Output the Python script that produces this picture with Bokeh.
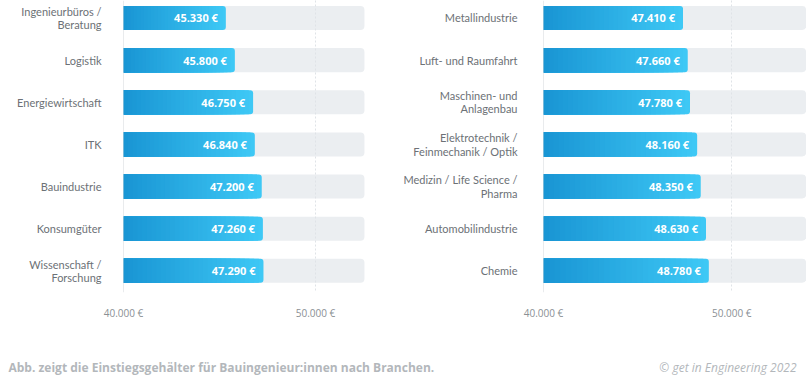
from bokeh.plotting import figure
from bokeh.models import ColumnDataSource, FixedTicker, Range1d, Span
from bokeh.layouts import row, column
from bokeh.embed import file_html
from bokeh.resources import INLINE
from bokeh.core.properties import value

# ---------------- data ----------------
left_labels = ["Ingenieurbüros /\nBeratung", "Logistik", "Energiewirtschaft", "ITK",
               "Bauindustrie", "Konsumgüter", "Wissenschaft /\nForschung"]
left_values = [45330, 45800, 46750, 46840, 47200, 47260, 47290]

right_labels = ["Metallindustrie", "Luft- und Raumfahrt", "Maschinen- und\nAnlagenbau",
                "Elektrotechnik /\nFeinmechanik / Optik", "Medizin / Life Science /\nPharma",
                "Automobilindustrie", "Chemie"]
right_values = [47410, 47660, 47780, 48160, 48350, 48630, 48780]

axis_start = 40000
tick_values = [40000, 50000]
tick_labels = ["40.000 €", "50.000 €"]
left_track_end = 52550
right_track_end = 53950

footer_note = "Abb. zeigt die Einstiegsgehälter für Bauingenieur:innen nach Branchen."
footer_credit = "© get in Engineering 2022"

# ---------------- style ----------------
FONT = "Open Sans"
LABEL_FONT = "Lato"
DARK = (24, 148, 211)
LIGHT = (62, 200, 245)
N_STEPS = 30
BAR_H = 0.57
LINE_GAP = 0.158   # half line spacing (in row units) for two-line labels


def fmt(v):
    return f"{v:,}".replace(",", ".") + " €"


def mix(t):
    r = [round(DARK[i] + (LIGHT[i] - DARK[i]) * t) for i in range(3)]
    return "#%02x%02x%02x" % tuple(r)


def label_ticks(labels):
    ticks, texts = [], []
    for i, lab in enumerate(labels):
        parts = lab.split("\n")
        n = len(parts)
        for j, part in enumerate(parts):
            ticks.append(i + (j - (n - 1) / 2) * 2 * LINE_GAP)
            texts.append(part)
    return ticks, texts


def make_panel(labels, values, track_end, x_end, width, border_left, border_right, standoff):
    ys = list(range(len(values)))
    p = figure(width=width, height=345, output_backend="svg", toolbar_location=None,
               x_range=Range1d(axis_start, x_end), y_range=Range1d(6.515, -0.415),
               min_border_left=border_left, min_border_right=border_right,
               min_border_top=0, min_border_bottom=53)
    p.outline_line_color = None
    p.background_fill_color = "white"
    p.border_fill_color = "white"

    # track
    p.hbar(y=ys, left=axis_start, right=track_end, height=BAR_H,
           fill_color="#ebeef1", line_color=None, border_radius=(0, 4, 4, 0))

    # full bar (rounded end, lightest colour)
    p.hbar(y=ys, left=axis_start, right=values, height=BAR_H,
           fill_color=mix(1.0), line_color=None, border_radius=(0, 3, 3, 0))

    # gradient steps, longest first
    sy, sr, sc = [], [], []
    for k in range(1, N_STEPS):
        frac = 1 - k / N_STEPS
        for y, v in zip(ys, values):
            sy.append(y)
            sr.append(axis_start + (v - axis_start) * frac)
            sc.append(mix(frac))
    src = ColumnDataSource(dict(y=sy, right=sr, color=sc))
    p.hbar(y="y", left=axis_start, right="right", height=BAR_H, source=src,
           fill_color="color", line_color=None)

    # value labels
    p.text(x=values, y=ys, text=[fmt(v) for v in values], x_offset=-8,
           text_align="right", text_baseline="middle", text_color="white",
           text_font=value(FONT), text_font_style="bold", text_font_size="11px")

    # axis line at 40.000
    p.add_layout(Span(location=axis_start, dimension="height",
                      line_color="#d3d7db", line_width=1))

    # grid
    p.ygrid.visible = False
    p.xgrid.ticker = FixedTicker(ticks=[tick_values[1]])
    p.xgrid.grid_line_color = "#dfe3e7"
    p.xgrid.grid_line_dash = "2 2"
    p.xgrid.level = "overlay"

    # x axis
    xa = p.xaxis[0]
    xa.ticker = FixedTicker(ticks=tick_values)
    xa.major_label_overrides = {t: l for t, l in zip(tick_values, tick_labels)}
    xa.axis_line_color = None
    xa.major_tick_line_color = None
    xa.minor_tick_line_color = None
    xa.major_label_standoff = 7
    xa.major_label_text_font = FONT
    xa.major_label_text_font_size = "10px"
    xa.major_label_text_color = "#8a8f94"

    # y axis (category names, multi-line names split into single lines)
    ticks, texts = label_ticks(labels)
    ya = p.yaxis[0]
    ya.ticker = FixedTicker(ticks=ticks)
    ya.major_label_overrides = {t: s for t, s in zip(ticks, texts)}
    ya.axis_line_color = None
    ya.major_tick_line_color = None
    ya.minor_tick_line_color = None
    ya.major_label_standoff = standoff
    ya.major_label_text_font = LABEL_FONT
    ya.major_label_text_font_size = "11px"
    ya.major_label_text_color = "#6c7176"
    ya.major_label_text_align = "right"
    return p


p1 = make_panel(left_labels, left_values, left_track_end, 53646, 393, 123, 8, 16)
p2 = make_panel(right_labels, right_values, right_track_end, 53967, 413, 150, 0, 20)

foot = figure(width=806, height=30, output_backend="svg", toolbar_location=None,
              x_range=Range1d(0, 806), y_range=Range1d(0, 30),
              min_border=0)
foot.axis.visible = False
foot.grid.visible = False
foot.outline_line_color = None
foot.text(x=[8], y=[8], text=[footer_note], text_align="left", text_baseline="middle",
          text_font=value(FONT), text_font_style="bold", text_font_size="12px",
          text_color="#b3b7bb")
foot.text(x=[796], y=[8], text=[footer_credit], text_align="right", text_baseline="middle",
          text_font=value(FONT), text_font_style="italic", text_font_size="12px",
          text_color="#b3b7bb")

layout = column(row(p1, p2), foot)
open("out.html", "w").write(file_html(layout, INLINE))
